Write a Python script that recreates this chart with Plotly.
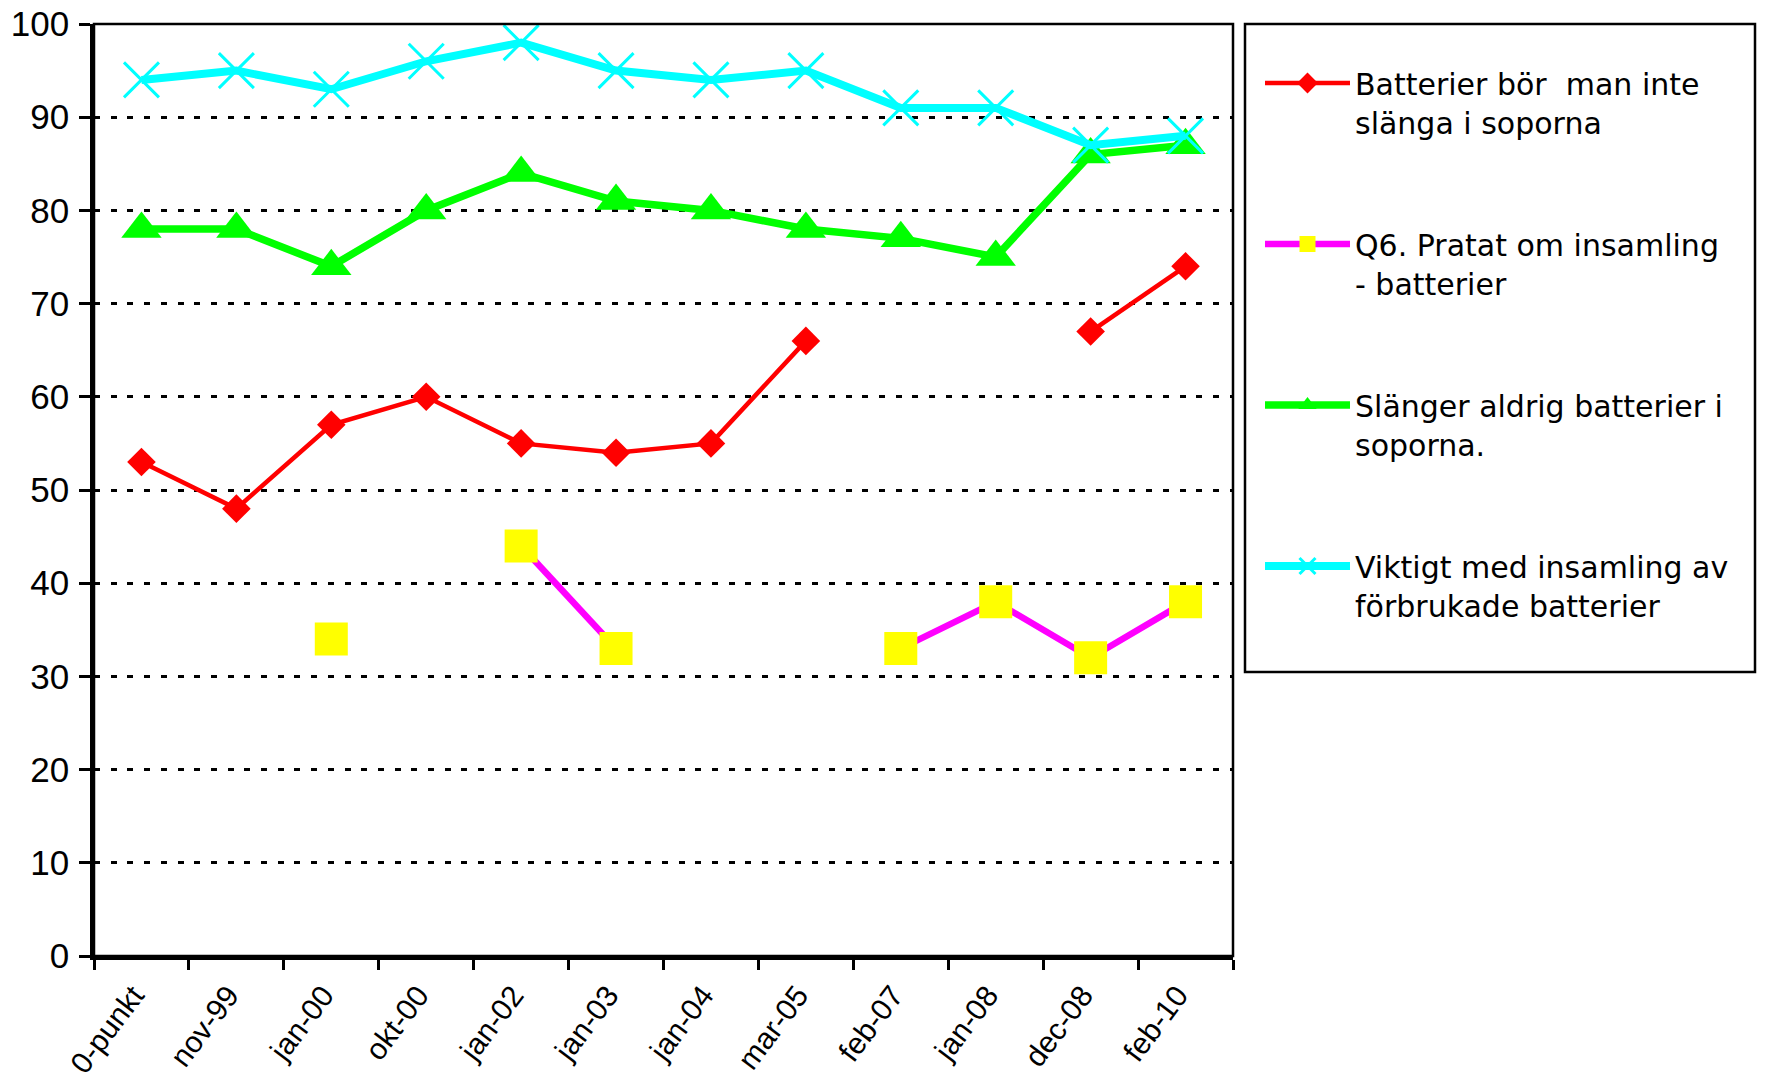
import plotly.graph_objects as go

# Survey rounds (x categories)
rounds = ["0-punkt", "nov-99", "jan-00", "okt-00", "jan-02", "jan-03",
          "jan-04", "mar-05", "feb-07", "jan-08", "dec-08", "feb-10"]

# Share of respondents (%) per statement; None = not asked that round
bor_inte_slanga = [53, 48, 57, 60, 55, 54, 55, 66, None, None, 67, 74]
pratat_insamling = [None, None, 34, None, 44, 33, None, None, 33, 38, 32, 38]
slanger_aldrig = [78, 78, 74, 80, 84, 81, 80, 78, 77, 75, 86, 87]
viktigt_insamling = [94, 95, 93, 96, 98, 95, 94, 95, 91, 91, 87, 88]

y_ticks = [0, 10, 20, 30, 40, 50, 60, 70, 80, 90, 100]

names = [
    "Batterier bör  man inte<br>slänga i soporna",
    "Q6. Pratat om insamling<br>- batterier",
    "Slänger aldrig batterier i<br>soporna.",
    "Viktigt med insamling av<br>förbrukade batterier",
]

W, H = 1766, 1083
L, R, T, B = 94, 533, 24, 127
PW, PH = W - L - R, H - T - B


def px_x(px):
    return (px - L) / PW


def px_y(py):
    return (H - B - py) / PH


fig = go.Figure()

fig.add_trace(go.Scatter(
    x=rounds, y=bor_inte_slanga, name=names[0], legendgroup="a",
    mode="lines+markers",
    line=dict(color="#FF0000", width=4.5),
    marker=dict(symbol="diamond", size=22, color="#FF0000", line=dict(width=0)),
))
fig.add_trace(go.Scatter(
    x=rounds, y=pratat_insamling, name=names[1], legendgroup="b",
    mode="lines+markers",
    line=dict(color="#FF00FF", width=6.5),
    marker=dict(symbol="square", size=33, color="#FFFF00", line=dict(width=0)),
))
fig.add_trace(go.Scatter(
    x=rounds, y=slanger_aldrig, name=names[2], legendgroup="c",
    mode="lines+markers",
    line=dict(color="#00FF00", width=7.5),
    marker=dict(symbol="triangle-up", size=35, color="#00FF00", line=dict(width=0)),
))
fig.add_trace(go.Scatter(
    x=rounds, y=viktigt_insamling, name=names[3], legendgroup="d",
    mode="lines+markers",
    line=dict(color="#00FFFF", width=8),
    marker=dict(symbol="x-thin", size=35, color="#00FFFF",
                line=dict(width=3, color="#00FFFF")),
))

# plot-area frame and legend frame
fig.add_shape(type="rect", xref="paper", yref="paper", x0=0, x1=1, y0=0, y1=1,
              line=dict(color="black", width=2.5), layer="above")
fig.add_shape(type="rect", xref="paper", yref="paper",
              x0=px_x(1245), x1=px_x(1755), y0=px_y(672), y1=px_y(24),
              line=dict(color="black", width=2.5))

fig.update_layout(
    width=W, height=H,
    margin=dict(l=L, r=R, t=T, b=B, autoexpand=False),
    paper_bgcolor="white", plot_bgcolor="white",
    font=dict(family="Liberation Sans, Arial, sans-serif", color="black"),
    showlegend=True,
    legend=dict(
        x=px_x(1260), y=px_y(57), xanchor="left", yanchor="top",
        bgcolor="rgba(0,0,0,0)", borderwidth=0,
        font=dict(family="DejaVu Sans, sans-serif", size=30, color="black"),
        itemwidth=85, valign="top", tracegroupgap=80,
        traceorder="grouped",
    ),
    xaxis=dict(
        type="category", range=[-0.5, 11.5],
        showline=True, linecolor="black", linewidth=3.5,
        ticks="outside", tickson="boundaries", ticklen=10, tickwidth=2.5,
        tickcolor="black", tickangle=-53,
        tickfont=dict(size=30),
        ticklabelshift=-8, ticklabelstandoff=6,
        showgrid=False, zeroline=False,
    ),
    yaxis=dict(
        range=[0, 100], tickvals=y_ticks,
        showline=True, linecolor="black", linewidth=3.5,
        ticks="outside", ticklen=11, tickwidth=2.5, tickcolor="black",
        tickfont=dict(size=35),
        ticklabelstandoff=3,
        showgrid=True, gridcolor="black", gridwidth=2.5, griddash="6px,10.7px",
        zeroline=False,
    ),
)

fig.write_html("out.html")
